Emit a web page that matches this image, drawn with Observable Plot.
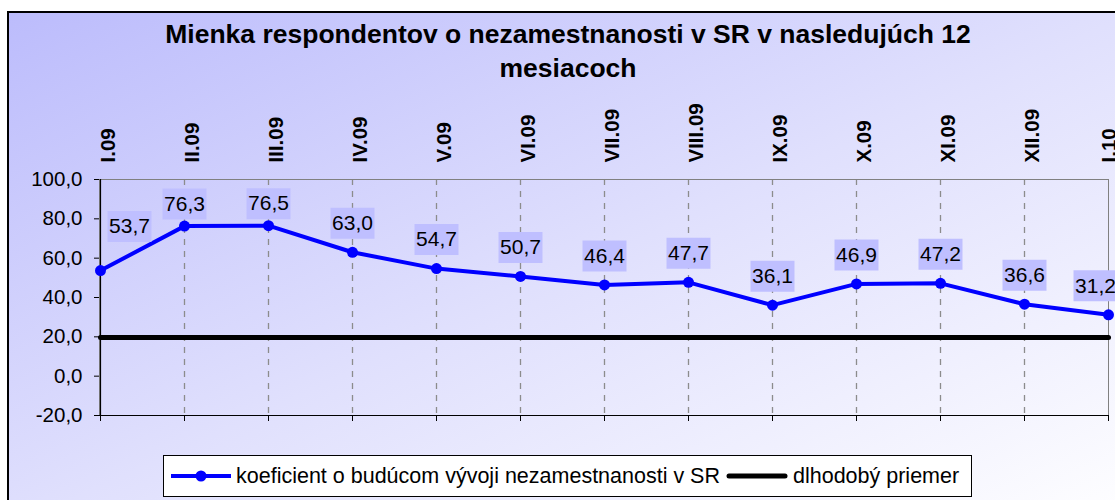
<!DOCTYPE html>
<html>
<head>
<meta charset="utf-8">
<script src="https://cdn.jsdelivr.net/npm/d3@7"></script>
<script src="https://cdn.jsdelivr.net/npm/@observablehq/plot@0.6"></script>
<style>
  html, body { margin: 0; padding: 0; background: #ffffff; width: 1115px; height: 500px; overflow: hidden; }
  body { position: relative; font-family: "Liberation Sans", Arial, sans-serif; }
  #panel { position: absolute; left: 7px; top: 11px; width: 1130px; height: 520px; box-sizing: border-box;
           border: 2px solid #000; background: linear-gradient(to bottom right, #bcbcfc 0%, #e0e0fd 50%, #ffffff 100%); }
  #title { position: absolute; left: 8px; width: 1120px; top: 17px; text-align: center; font-weight: bold;
           font-size: 26.5px; line-height: 34px; white-space: nowrap; color: #000; }
  #chart { position: absolute; left: 0; top: 0; }
  #legend { position: absolute; left: 163px; top: 455px; width: 809px; height: 42px; box-sizing: border-box;
            border: 1px solid #000; background: #fff; display: flex; align-items: center; padding-left: 7px;
            font-size: 21.5px; color: #000; white-space: nowrap; }
  #legend svg { display: block; flex: none; }
</style>
</head>
<body>
<div id="panel"></div>
<div id="chart"></div>
<div id="title">Mienka respondentov o nezamestnanosti v SR v nasledujúch 12<br>mesiacoch</div>
<div id="legend">
  <svg width="60" height="14"><line x1="0" y1="7" x2="60" y2="7" stroke="#0000ff" stroke-width="4"/><circle cx="30" cy="7" r="5.5" fill="#0000ff"/></svg>
  <span style="margin-left:5px">koeficient o budúcom vývoji nezamestnanosti v SR</span>
  <svg width="62" height="14" style="margin-left:6px"><line x1="3" y1="7" x2="59" y2="7" stroke="#000" stroke-width="5" stroke-linecap="round"/></svg>
  <span style="margin-left:5px">dlhodobý priemer</span>
</div>
<script>
const months = ["I.09", "II.09", "III.09", "IV.09", "V.09", "VI.09", "VII.09", "VIII.09", "IX.09", "X.09", "XI.09", "XII.09", "I.10"];
const coefficient = [53.7, 76.3, 76.5, 63.0, 54.7, 50.7, 46.4, 47.7, 36.1, 46.9, 47.2, 36.6, 31.2];
const longTermAverage = 19.7;
const yTicks = [-20, 0, 20, 40, 60, 80, 100];

const series = months.map((m, i) => ({month: m, value: coefficient[i], index: i}));
const avgSeries = months.map(m => ({month: m, value: longTermAverage}));
const last = months.length - 1;

const fmt = v => v.toFixed(1).replace(".", ",");
const labelBox = { draw(context) { context.rect(-22, -15.5, 44, 31); } };

const isFirst = d => d.index === 0;
const isLast = d => d.index === last;
const isPeak = d => d.index > 0 && d.value > 70;
const isOther = d => d.index > 0 && d.index < last && d.value <= 70;

const labelMarks = [
  [isFirst, 29, -44],
  [isPeak, 0, -22],
  [isOther, 0, -29],
  [isLast, -13, -29]
].flatMap(([f, dx, dy]) => [
  Plot.dot(series, {filter: f, x: "month", y: "value", symbol: labelBox, r: 1, fill: "#bfbfff", stroke: "none", dx, dy}),
  Plot.text(series, {filter: f, x: "month", y: "value", text: d => fmt(d.value), fontSize: 21, fill: "#000", dx, dy})
]);

const xLabel = (filter, dx) => Plot.text(months, {filter, x: d => d, frameAnchor: "top", dx, dy: -17, rotate: -90, textAnchor: "start", fontWeight: "bold", fontSize: 20.5, fill: "#000"});

const chart = Plot.plot({
  width: 1115,
  height: 500,
  marginLeft: 99,
  marginRight: 7,
  marginTop: 179,
  marginBottom: 85,
  style: {background: "transparent", fontFamily: "'Liberation Sans', Arial, sans-serif", overflow: "visible"},
  x: {type: "point", domain: months, padding: 0, axis: null},
  y: {domain: [-20, 100], axis: null},
  marks: [
    Plot.ruleX(months.slice(1, -1), {stroke: "#8c8c8c", strokeWidth: 1.3, strokeDasharray: "6,6"}),
    Plot.frame({stroke: "#808080", strokeWidth: 1}),
    Plot.axisY(yTicks, {anchor: "left", tickSize: 5, tickPadding: 12, tickFormat: fmt, fontSize: 20.5, stroke: "#000", fill: "#000", label: null}),
    Plot.ruleX([months[0]], {stroke: "#000", strokeWidth: 1.2}),
    Plot.ruleY([-20], {stroke: "#000", strokeWidth: 1.2}),
    Plot.axisX({anchor: "bottom", tickSize: 6, tickFormat: () => "", stroke: "#000", label: null}),
    Plot.line(avgSeries, {x: "month", y: "value", stroke: "#000", strokeWidth: 5, strokeLinecap: "round"}),
    Plot.line(series, {x: "month", y: "value", stroke: "#0000ff", strokeWidth: 4}),
    Plot.dot(series, {x: "month", y: "value", r: 5.5, fill: "#0000ff", stroke: "none"}),
    ...labelMarks,
    xLabel((d, i) => i < last, 0),
    xLabel((d, i) => i === last, -7)
  ]
});
document.getElementById("chart").appendChild(chart);
</script>
</body>
</html>
